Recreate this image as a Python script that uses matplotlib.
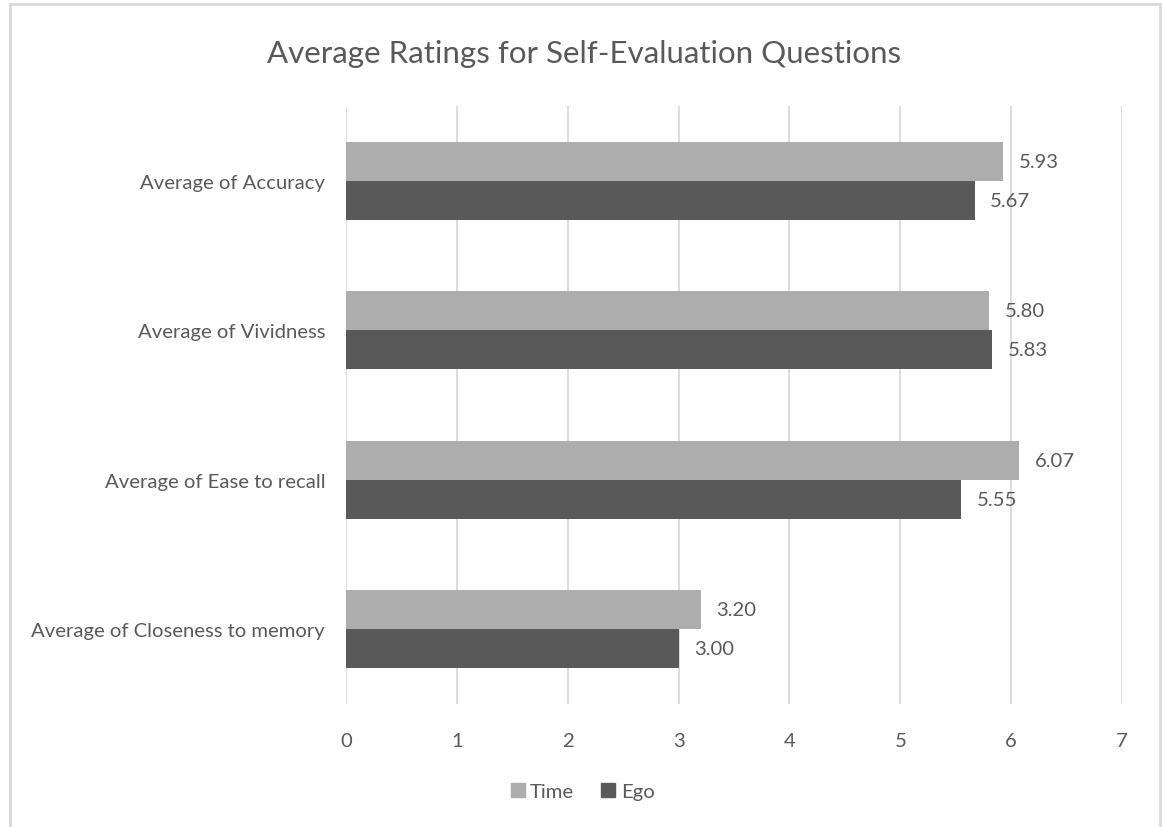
import numpy as np
import matplotlib
matplotlib.use('Agg')
import matplotlib.pyplot as plt
from matplotlib.lines import Line2D

plt.rcParams['font.family'] = ['Lato', 'DejaVu Sans']

categories = ['Average of Accuracy', 'Average of Vividness',
              'Average of Ease to recall', 'Average of Closeness to memory']
time_vals = [5.93, 5.80, 6.07, 3.20]
ego_vals = [5.67, 5.83, 5.55, 3.00]
series = ['Time', 'Ego']

TXT = '#595959'
C_TIME = '#ADADAD'
C_EGO = '#595959'
GRID = '#D9D9D9'
FS = 14.6

fig = plt.figure(figsize=(11.62, 8.28), dpi=100)
ax = fig.add_axes([0.2978, 0.1486, 0.9656 - 0.2978, 0.8708 - 0.1486])

y = np.arange(len(categories))
h = 0.26
bt = ax.barh(y - h / 2, time_vals, height=h, color=C_TIME, label='Time')
be = ax.barh(y + h / 2, ego_vals, height=h, color=C_EGO, label='Ego')

for bars, vals in ((bt, time_vals), (be, ego_vals)):
    for b, v in zip(bars, vals):
        ax.text(v + 0.14, b.get_y() + b.get_height() / 2, f'{v:.2f}',
                va='center', ha='left', fontsize=FS, color=TXT)

ax.set_xlim(0, 7)
ax.set_ylim(3.5, -0.5)
ax.set_xticks(range(8))
ax.set_yticks(y)
ax.set_yticklabels(categories)
ax.tick_params(axis='both', length=0, labelsize=FS, labelcolor=TXT)
ax.tick_params(axis='x', pad=20)
ax.tick_params(axis='y', pad=15)
for s in ax.spines.values():
    s.set_visible(False)
ax.grid(axis='x', color=GRID, lw=1.3)
ax.set_axisbelow(True)

fig.text(0.503, 0.935, 'Average Ratings for Self-Evaluation Questions',
         ha='center', va='center', fontsize=22.5, color=TXT)

handles = [Line2D([], [], marker='s', ls='', color=C_TIME, markersize=9.5),
           Line2D([], [], marker='s', ls='', color=C_EGO, markersize=9.5)]
fig.legend(handles, series, loc='center', bbox_to_anchor=(0.5, 0.043), ncol=2,
           frameon=False, fontsize=FS, labelcolor=TXT, handletextpad=0.1,
           columnspacing=1.2, handlelength=1.0)

# chart border (bottom edge is cropped off in the source)
fig.add_artist(Line2D([0.0086, 0.0086], [0, 0.994], color=GRID, lw=2, transform=fig.transFigure))
fig.add_artist(Line2D([0.0086, 0.9985], [0.994, 0.994], color=GRID, lw=2, transform=fig.transFigure))
fig.add_artist(Line2D([0.9985, 0.9985], [0, 0.994], color=GRID, lw=2, transform=fig.transFigure))

fig.savefig('out.png', dpi=100)
